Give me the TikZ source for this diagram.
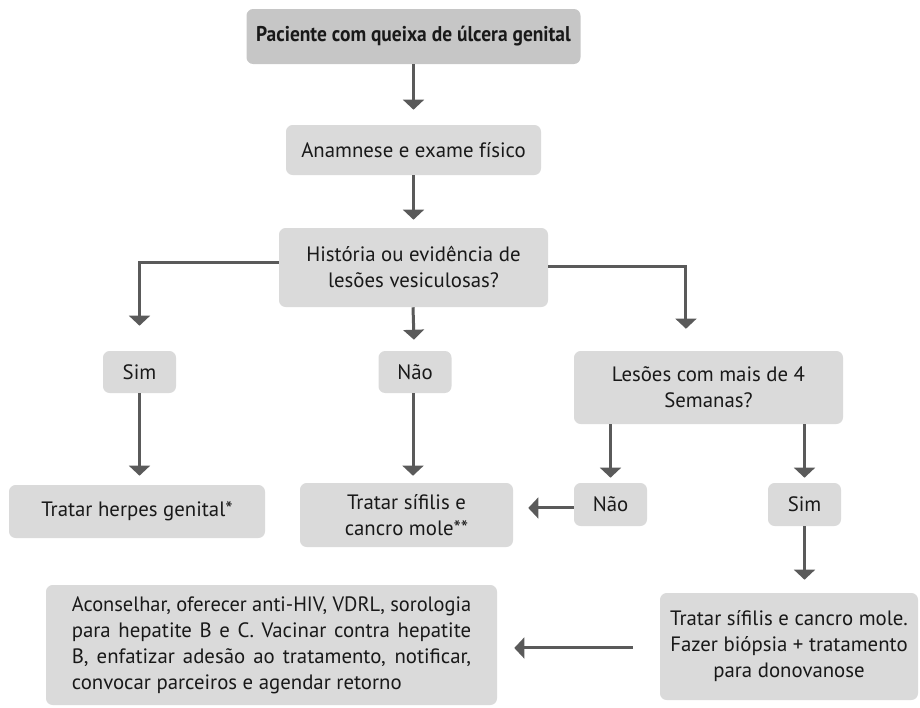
\documentclass[tikz,border=0pt]{standalone}
\usepackage{fontspec}
\setmainfont{PT Sans}
\usepackage{graphicx}
\usetikzlibrary{arrows.meta,positioning}
\definecolor{boxgray}{HTML}{DADADA}
\definecolor{topgray}{HTML}{C6C6C6}
\definecolor{linegray}{HTML}{5A5A5A}
\tikzset{
    every node/.style={font=\fontsize{15.6pt}{19.5pt}\selectfont, text=black!90},
    box/.style={fill=boxgray, rounded corners=5pt, align=center, inner sep=0pt},
    arr/.style={->, draw=linegray, line width=2.25pt}
}

\begin{document}
\begin{tikzpicture}[
            x = 0.75pt, y = -0.75pt, % pixel grid
            > = {Triangle[width=15.5pt, length=7.5pt]}
        ]
        \useasboundingbox (0,0) rectangle (920,707);

        \node[box, fill = topgray, minimum width = 250.5pt, minimum height = 41.25pt] (title) at (413.5,36.5)
            {\resizebox{236pt}{\height}{\fontsize{16pt}{19pt}\selectfont\bfseries Paciente com queixa de úlcera genital}};
        \node[box, minimum width = 191.25pt, minimum height = 37.5pt] (anam) at (413.5,150) {Anamnese e exame físico};
        \node[box, minimum width = 201.75pt, minimum height = 59.25pt] (hist) at (413.5,267.5) {História ou evidência de\\lesões vesiculosas?};
        \node[box, minimum width = 54.75pt, minimum height = 31.5pt] (sim) at (139.5,372) {Sim};
        \node[box, minimum width = 54.75pt, minimum height = 31.5pt] (nao) at (415,372) {Não};
        \node[box, minimum width = 201.75pt, minimum height = 54.75pt] (les) at (708.5,387.5) {Lesões com mais de 4\\Semanas?};
        \node[box, minimum width = 192pt, minimum height = 39.75pt] (herpes) at (137,511.5) {Tratar herpes genital*};
        \node[box, minimum width = 159.75pt, minimum height = 48pt] (sifilis) at (406.5,515) {Tratar sífilis e\\cancro mole**};
        \node[box, minimum width = 54.75pt, minimum height = 32.25pt] (nao2) at (610.5,504.5) {Não};
        \node[box, minimum width = 54.75pt, minimum height = 32.25pt] (sim2) at (804.5,504.5) {Sim};
        \node[box, minimum width = 193.5pt, minimum height = 80.25pt] (biop) at (789,646.5)
            {Tratar sífilis e cancro mole.\\Fazer biópsia + tratamento\\para donovanose};
        \node[box, minimum width = 338.25pt, minimum height = 90pt, text width = 299.5pt, align = justify] (acons) at (271.5,645)
            {\resizebox{\linewidth}{\height}{Aconselhar, oferecer anti-HIV, VDRL, sorologia}
             para hepatite B e C. Vacinar contra hepatite\linebreak
             B, enfatizar adesão ao tratamento, notificar,\linebreak
             convocar parceiros e agendar retorno};

        % main line
        \draw[arr, shorten > = 11.25pt] (title) -- (anam);
        \draw[arr, shorten > = 6pt] (anam) -- (hist);
        \draw[arr, shorten > = 8.25pt] (hist.south -| 413,0) -- (nao);

        % branches
        \draw[arr, shorten > = 18.75pt] ([yshift = 3.4pt]hist.west) -| (sim);
        \draw[arr, shorten > = 16.5pt] ([yshift = 1.1pt]hist.east) -| ([xshift = -16.9pt]les.north);
        \draw[arr, shorten > = 6.75pt] (sim) -- (herpes.north -| sim);
        \draw[arr, shorten > = 5.25pt] (nao.south -| 413,0) -- (sifilis.north -| 413,0);
        \draw[arr, shorten > = 3.75pt] (les.south -| nao2) -- (nao2);
        \draw[arr, shorten > = 3.75pt] (les.south -| sim2) -- (sim2);
        \draw[arr, shorten > = 11.25pt] ([yshift = -2.6pt]nao2.west) -- ([yshift = -2.6pt]nao2.west -| sifilis.east);
        \draw[arr, shorten > = 9.75pt] (sim2) -- (biop.north -| sim2);
        \draw[arr, shorten < = 20.25pt, shorten > = 12.75pt] ([yshift = -1.1pt]biop.west) -- ([yshift = -1.1pt]biop.west -| acons.east);

  \end{tikzpicture}
\end{document}
